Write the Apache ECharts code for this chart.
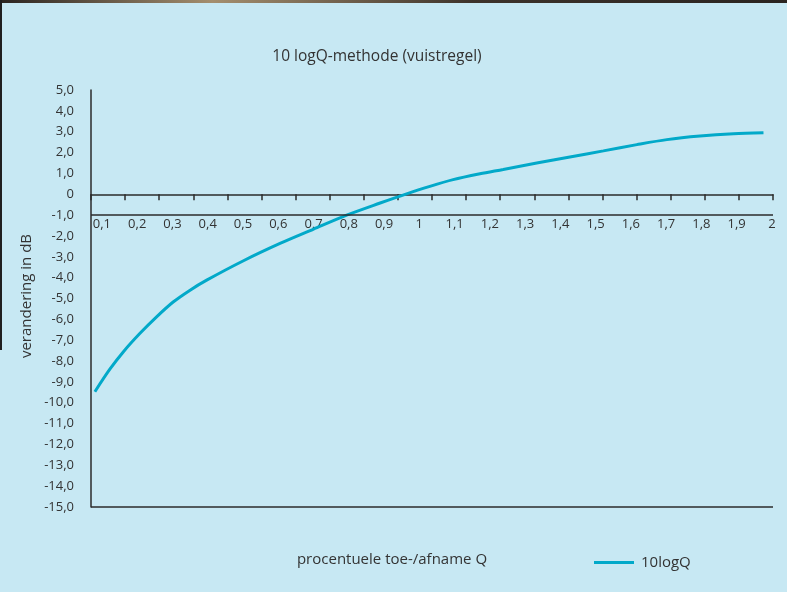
<!DOCTYPE html>
<html>
<head>
<meta charset="utf-8">
<script src="https://cdn.jsdelivr.net/npm/echarts@6/dist/echarts.min.js"></script>
<style>
html,body{margin:0;padding:0;background:#c7e8f3;}
#chart{width:787px;height:592px;}
</style>
</head>
<body>
<div id="chart"></div>
<script>
// Data
var qValues = [0.080, 0.123, 0.161, 0.208, 0.255, 0.302, 0.350, 0.397, 0.500, 0.605, 0.699, 0.794, 0.889, 0.964, 1.030, 1.096, 1.172, 1.238, 1.333, 1.427, 1.522, 1.617, 1.702, 1.796, 1.891, 1.976];
var dbValues = [-9.47, -8.38, -7.55, -6.67, -5.88, -5.17, -4.60, -4.12, -3.20, -2.36, -1.68, -1.00, -0.42, 0.02, 0.38, 0.70, 0.98, 1.19, 1.50, 1.79, 2.08, 2.38, 2.62, 2.79, 2.90, 2.95];
var xTickLabels = [0.1, 0.2, 0.3, 0.4, 0.5, 0.6, 0.7, 0.8, 0.9, 1, 1.1, 1.2, 1.3, 1.4, 1.5, 1.6, 1.7, 1.8, 1.9, 2];
var seriesName = '10logQ';
var titleText = '10 logQ-methode (vuistregel)';
var yName = 'verandering in dB';
var xName = 'procentuele toe-/afname Q';

var FONT = '"Open Sans", "Noto Sans", sans-serif';
var TXT = '#333333';
var AX = '#2b2b2b';

var points = qValues.map(function (q, i) { return [q, dbValues[i]]; });

function comma(v, dec) {
  return v.toFixed(dec).replace('.', ',');
}

var GRID_TOP = 90, GRID_BOTTOM_Y = 507;
var zeroY = GRID_TOP + (GRID_BOTTOM_Y - GRID_TOP) * 5 / 20;

var chart = echarts.init(document.getElementById('chart'), null, {renderer: 'canvas'});
chart.setOption({
  backgroundColor: '#c7e8f3',
  animation: false,
  textStyle: {fontFamily: FONT},
  grid: {left: 91, right: 14, top: GRID_TOP, bottom: 592 - GRID_BOTTOM_Y, containLabel: false},
  xAxis: [
    {
      type: 'value', position: 'bottom', min: 0, max: 2, interval: 0.1,
      axisLine: {show: true, onZero: true, lineStyle: {color: AX, width: 1.5}},
      axisTick: {show: true, inside: false, length: 6, lineStyle: {color: AX, width: 1.5}},
      axisLabel: {show: false},
      splitLine: {show: false}
    },
    {
      type: 'value', position: 'bottom', min: 0.069, max: 2.003,
      offset: -(GRID_BOTTOM_Y - zeroY),
      axisLine: {show: false, onZero: false},
      axisTick: {show: false},
      splitLine: {show: false},
      axisLabel: {
        show: true, margin: 24, customValues: xTickLabels,
        color: TXT, fontSize: 13, fontFamily: FONT,
        formatter: function (v) { return (Math.abs(v - Math.round(v)) < 1e-9) ? String(Math.round(v)) : comma(v, 1); }
      }
    }
  ],
  yAxis: {
    type: 'value', min: -15, max: 5, interval: 1,
    axisLine: {show: true, onZero: false, lineStyle: {color: AX, width: 1.5}},
    axisTick: {show: false},
    splitLine: {show: false},
    axisLabel: {
      margin: 17, color: TXT, fontSize: 13, fontFamily: FONT,
      formatter: function (v) { return v === 0 ? '0' : comma(v, 1); }
    }
  },
  legend: {
    data: [seriesName],
    left: 589, top: 550,
    icon: 'rect', itemWidth: 40, itemHeight: 3,
    textStyle: {color: TXT, fontSize: 15, fontFamily: FONT, padding: [0, 0, 0, 2]}
  },
  series: [{
    name: seriesName,
    type: 'line',
    xAxisIndex: 1,
    data: points,
    smooth: 0.3,
    symbol: 'none',
    lineStyle: {color: '#02a9c9', width: 3},
    itemStyle: {color: '#02a9c9'},
    markLine: {
      silent: true, symbol: 'none', label: {show: false},
      lineStyle: {color: AX, width: 1.5, type: 'solid'},
      data: [{yAxis: -1}, {yAxis: -15}]
    }
  }],
  graphic: [
    {type: 'rect', left: 0, top: 0, shape: {width: 787, height: 3}, z: 100,
      style: {fill: new echarts.graphic.LinearGradient(0, 0, 1, 0, [
        {offset: 0, color: '#2a2420'}, {offset: 0.27, color: '#a48e6e'},
        {offset: 0.6, color: '#3d332b'}, {offset: 1, color: '#2a2420'}])}},
    {type: 'rect', left: 0, top: 0, shape: {width: 2, height: 350}, z: 100, style: {fill: '#1f1f1f'}},
    {type: 'text', x: 377, y: 57, z: 100,
      style: {text: titleText, fill: TXT, font: '15.5px ' + FONT, textAlign: 'center', textVerticalAlign: 'middle'}},
    {type: 'text', x: 27, y: 296, rotation: Math.PI / 2, z: 100,
      style: {text: yName, fill: TXT, font: '15px ' + FONT, textAlign: 'center', textVerticalAlign: 'middle'}},
    {type: 'text', x: 392, y: 560, z: 100,
      style: {text: xName, fill: TXT, font: '15px ' + FONT, textAlign: 'center', textVerticalAlign: 'middle'}}
  ]
});
</script>
</body>
</html>
